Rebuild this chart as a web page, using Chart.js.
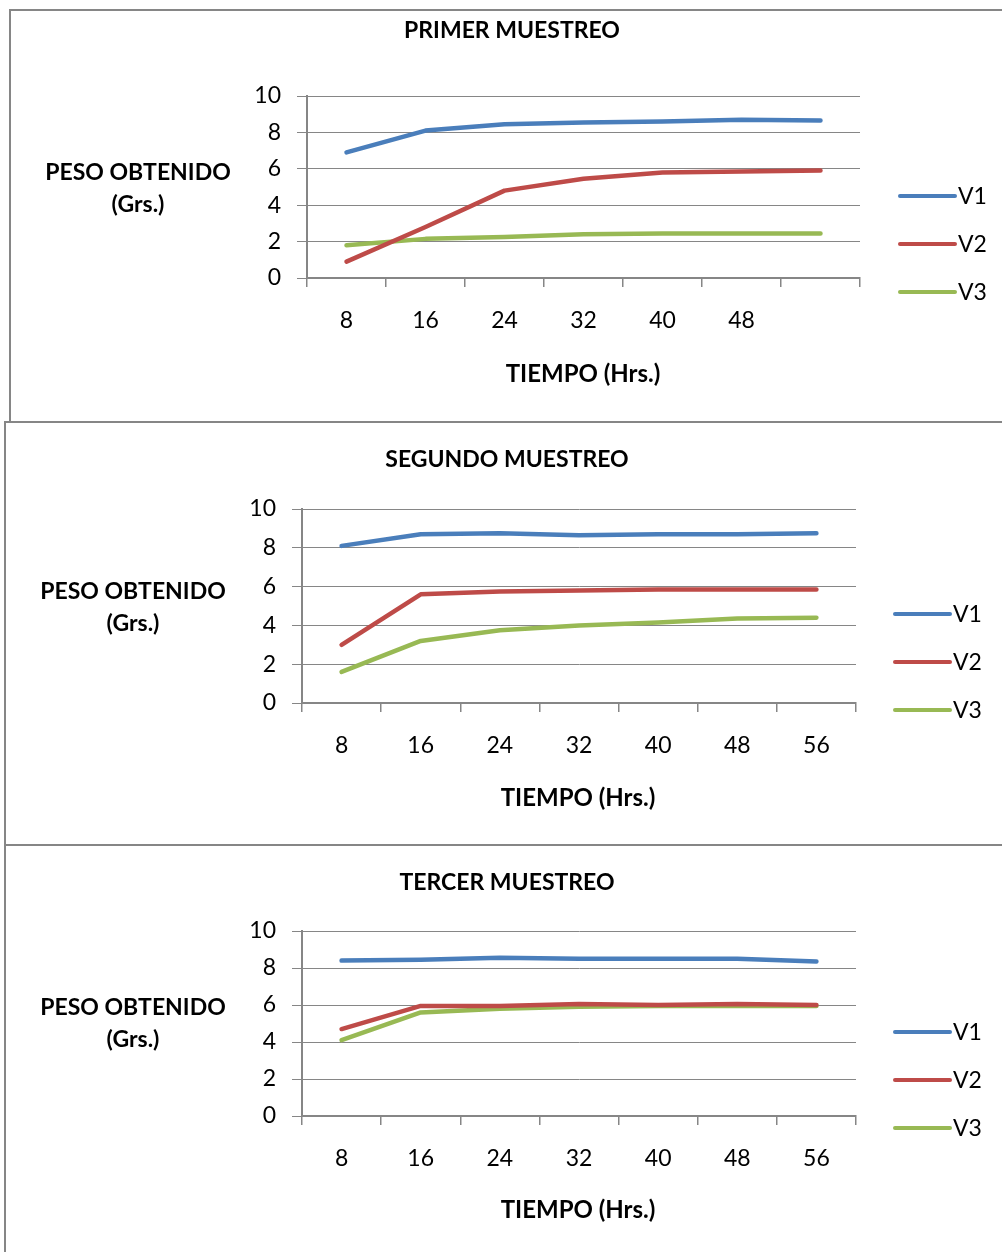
<!DOCTYPE html>
<html>
<head>
<meta charset="utf-8">
<title>Muestreos</title>
<script src="https://cdn.jsdelivr.net/npm/chart.js@4.4.1/dist/chart.umd.min.js"></script>
<style>
  html, body { margin: 0; padding: 0; background: #fff; }
  body { width: 1002px; height: 1252px; overflow: hidden; position: relative; }
  .box { position: absolute; border: 2px solid #868686; box-sizing: border-box; }
  canvas { position: absolute; left: 0; }
</style>
</head>
<body>
<div class="box" style="left:9px;top:9px;width:1010px;height:414px"></div>
<div class="box" style="left:4px;top:421px;width:1010px;height:425px"></div>
<div class="box" style="left:4px;top:844px;width:1010px;height:420px"></div>

<canvas id="c1" width="1002" height="422" style="top:0px"></canvas>
<canvas id="c2" width="1002" height="423" style="top:422px"></canvas>
<canvas id="c3" width="1002" height="407" style="top:845px"></canvas>

<script>
// categories (hours)
const horasPrimer = ['8', '16', '24', '32', '40', '48', ''];
const horas = ['8', '16', '24', '32', '40', '48', '56'];
const yTicks = [0, 2, 4, 6, 8, 10];

// PRIMER MUESTREO
const primerV1 = [6.9, 8.1, 8.45, 8.55, 8.6, 8.7, 8.65];
const primerV2 = [0.9, 2.8, 4.8, 5.45, 5.8, 5.85, 5.9];
const primerV3 = [1.8, 2.15, 2.25, 2.4, 2.45, 2.45, 2.45];

// SEGUNDO MUESTREO
const segundoV1 = [8.1, 8.7, 8.75, 8.65, 8.7, 8.7, 8.75];
const segundoV2 = [3.0, 5.6, 5.75, 5.8, 5.85, 5.85, 5.85];
const segundoV3 = [1.6, 3.2, 3.75, 4.0, 4.15, 4.35, 4.4];

// TERCER MUESTREO
const tercerV1 = [8.4, 8.45, 8.55, 8.5, 8.5, 8.5, 8.35];
const tercerV2 = [4.7, 5.95, 5.95, 6.05, 6.0, 6.05, 6.0];
const tercerV3 = [4.1, 5.6, 5.8, 5.9, 5.95, 5.95, 5.95];

const colores = ['#4A7EBB', '#BE4B48', '#98B954'];
const grisEje = '#868686';
const fuente = 'Lato, "Open Sans", sans-serif';

// draws title, horizontal y title, x title and legend like the Excel chart
const textosExcel = {
    id: 'textosExcel',
    afterDraw(chart, args, o) {
        const ctx = chart.ctx;
        ctx.save();
        ctx.fillStyle = '#000';
        ctx.textAlign = 'center';
        ctx.textBaseline = 'middle';
        ctx.font = 'bold 23px ' + fuente;
        ctx.fillText(o.titulo, o.tituloX, o.tituloY);
        ctx.fillText('PESO OBTENIDO', o.ejeYX, o.ejeYY);
        ctx.fillText('(Grs.)', o.ejeYX, o.ejeYY + 32);
        ctx.font = 'bold 24px ' + fuente;
        ctx.fillText('TIEMPO (Hrs.)', o.ejeXX, o.ejeXY);

        // legend
        ctx.textAlign = 'left';
        ctx.font = '23px ' + fuente;
        chart.data.datasets.forEach(function (ds, i) {
            const y = o.leyendaY + i * 48;
            ctx.strokeStyle = ds.borderColor;
            ctx.lineWidth = 4;
            ctx.lineCap = 'round';
            ctx.beginPath();
            ctx.moveTo(o.leyendaX, y);
            ctx.lineTo(o.leyendaX + 55, y);
            ctx.stroke();
            ctx.fillText(ds.label, o.leyendaX + 58, y + 1);
        });
        ctx.restore();
    }
};

function crearGrafico(id, etiquetas, v1, v2, v3, area, textos) {
    const canvas = document.getElementById(id);
    const alto = canvas.height;
    const series = [v1, v2, v3].map(function (vals, i) {
        return {
            label: 'V' + (i + 1),
            data: vals,
            borderColor: colores[i],
            backgroundColor: colores[i],
            borderWidth: 4.5,
            pointRadius: 0,
            pointHoverRadius: 0,
            tension: 0,
            borderJoinStyle: 'round',
            borderCapStyle: 'round',
            fill: false
        };
    });

    return new Chart(canvas.getContext('2d'), {
        type: 'line',
        data: { labels: etiquetas, datasets: series },
        options: {
            responsive: false,
            animation: false,
            events: [],
            layout: {
                padding: {
                    left: area.left - 60,
                    right: 1002 - area.right,
                    top: area.top,
                    bottom: alto - area.bottom - 60
                }
            },
            plugins: {
                legend: { display: false },
                title: { display: false },
                tooltip: { enabled: false },
                textosExcel: textos
            },
            scales: {
                x: {
                    offset: true,
                    grid: {
                        offset: true,
                        drawOnChartArea: false,
                        drawTicks: true,
                        tickLength: 9,
                        color: grisEje,
                        lineWidth: 1.5
                    },
                    border: { display: true, color: grisEje, width: 2 },
                    ticks: {
                        color: '#000',
                        font: { family: fuente, size: 23 },
                        padding: 20,
                        maxRotation: 0,
                        autoSkip: false
                    },
                    afterFit: function (s) { s.height = 60; }
                },
                y: {
                    min: 0,
                    max: 10,
                    afterBuildTicks: function (s) {
                        s.ticks = yTicks.map(function (v) { return { value: v }; });
                    },
                    grid: {
                        color: grisEje,
                        lineWidth: 1,
                        tickLength: 10,
                        drawTicks: true
                    },
                    border: { display: true, color: grisEje, width: 2 },
                    ticks: {
                        color: '#000',
                        font: { family: fuente, size: 23 },
                        padding: 16
                    },
                    afterFit: function (s) { s.width = 60; }
                }
            }
        },
        plugins: [textosExcel]
    });
}

crearGrafico('c1', horasPrimer, primerV1, primerV2, primerV3,
    { left: 307, right: 860, top: 96, bottom: 278 },
    { titulo: 'PRIMER MUESTREO', tituloX: 512, tituloY: 31,
      ejeYX: 138, ejeYY: 173, ejeXX: 583, ejeXY: 374,
      leyendaX: 900, leyendaY: 196 });

crearGrafico('c2', horas, segundoV1, segundoV2, segundoV3,
    { left: 302, right: 856, top: 87, bottom: 281 },
    { titulo: 'SEGUNDO MUESTREO', tituloX: 507, tituloY: 38,
      ejeYX: 133, ejeYY: 170, ejeXX: 578, ejeXY: 376,
      leyendaX: 895, leyendaY: 192 });

crearGrafico('c3', horas, tercerV1, tercerV2, tercerV3,
    { left: 302, right: 856, top: 86, bottom: 271 },
    { titulo: 'TERCER MUESTREO', tituloX: 507, tituloY: 38,
      ejeYX: 133, ejeYY: 163, ejeXX: 578, ejeXY: 365,
      leyendaX: 895, leyendaY: 187 });
</script>
</body>
</html>
